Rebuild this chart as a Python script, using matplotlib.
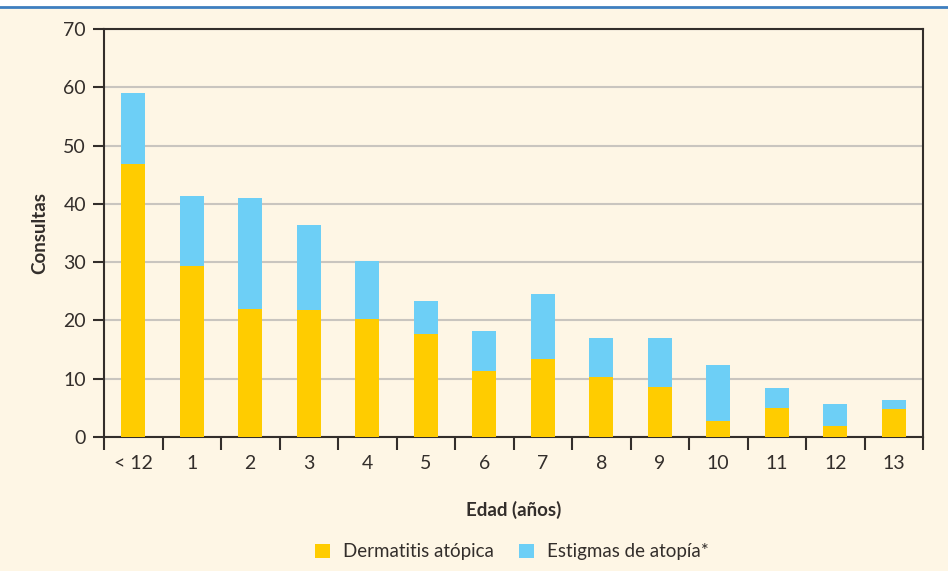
import matplotlib.pyplot as plt
import numpy as np
from matplotlib.lines import Line2D
from matplotlib.patches import Rectangle

edades = ["< 12", "1", "2", "3", "4", "5", "6", "7", "8", "9", "10", "11", "12", "13"]
dermatitis = [46.8, 29.4, 22.0, 21.8, 20.2, 17.7, 11.3, 13.4, 10.3, 8.6, 2.7, 5.0, 1.9, 4.8]
totales = [59.0, 41.3, 41.0, 36.4, 30.2, 23.3, 18.2, 24.5, 17.0, 17.0, 12.3, 8.4, 5.7, 6.3]
estigmas = [t - d for t, d in zip(totales, dermatitis)]

bg = "#fef6e5"
amarillo = "#ffcc00"
azul = "#6dcff6"
oscuro = "#332e2b"

plt.rcParams["font.family"] = ["Lato", "DejaVu Sans"]

fig = plt.figure(figsize=(9.48, 5.71), dpi=100, facecolor=bg)
# white strip and blue rule at the top
fig.patches.append(Rectangle((0, 1 - 6 / 571), 1, 6 / 571, transform=fig.transFigure,
                             facecolor="white", edgecolor="none"))
fig.lines.append(Line2D([0, 1], [1 - 6.5 / 571] * 2, transform=fig.transFigure,
                        color="#3d7fc0", lw=2))

ax = fig.add_axes([104 / 948, 1 - 437 / 571, (923 - 104) / 948, (437 - 29) / 571])
ax.set_facecolor(bg)

x = np.arange(len(edades))
ax.bar(x, dermatitis, width=0.41, color=amarillo, label="Dermatitis atópica", zorder=3)
ax.bar(x, estigmas, width=0.41, bottom=dermatitis, color=azul,
       label="Estigmas de atopía*", zorder=3)

ax.set_xlim(-0.5, len(edades) - 0.5)
ax.set_ylim(0, 70)
ax.set_yticks(range(0, 71, 10))
ax.yaxis.grid(True, color="#c9c5bf", lw=1.5, zorder=0)

ax.set_xticks(x)
ax.set_xticklabels(edades)
ax.set_xticks(np.arange(-0.5, len(edades), 1), minor=True)
ax.tick_params(axis="x", which="major", length=0, pad=13, labelsize=14, labelcolor=oscuro)
ax.tick_params(axis="x", which="minor", length=9, width=1.5, color=oscuro)
ax.tick_params(axis="y", length=8, width=1.5, color=oscuro, labelsize=14,
               labelcolor=oscuro, pad=5)

for s in ax.spines.values():
    s.set_color(oscuro)
    s.set_linewidth(1.5)

ax.set_xlabel("Edad (años)", fontsize=13.5, fontweight="bold", color=oscuro, labelpad=21)
ax.set_ylabel("Consultas", fontsize=13.5, fontweight="bold", color=oscuro, labelpad=11)

fig.legend(loc="center", bbox_to_anchor=(512 / 948, 1 - 552 / 571), ncol=2, frameon=False,
           fontsize=13.5, handlelength=0.8, handleheight=0.8, handletextpad=0.7,
           columnspacing=1.3, labelcolor=oscuro)

fig.savefig("out.png", dpi=100, facecolor=bg)
